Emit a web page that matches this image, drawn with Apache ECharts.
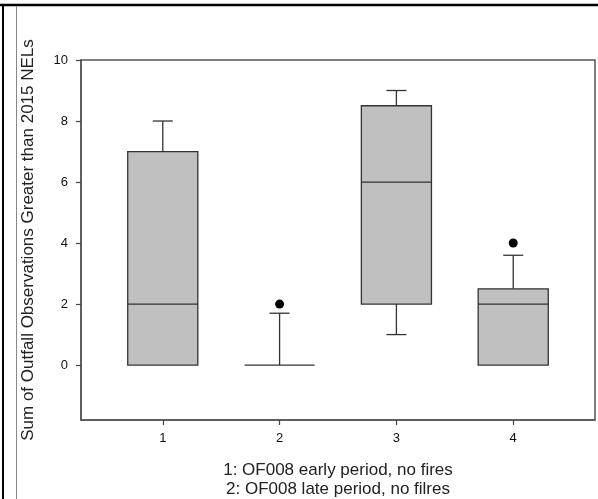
<!DOCTYPE html>
<html>
<head>
<meta charset="utf-8">
<script src="https://cdn.jsdelivr.net/npm/echarts@6/dist/echarts.min.js"></script>
<style>
html,body{margin:0;padding:0;background:#fff;}
#chart{width:598px;height:499px;}
</style>
</head>
<body>
<div id="chart"></div>
<script>
// ---- data ----
var categories = ['1', '2', '3', '4'];
var positions = [1, 2, 3, 4];
var whiskerLow = [0, 0, 1, 0];
var q1 = [0, 0, 2, 0];
var median = [2, 0, 6, 2];
var q3 = [7, 0, 8.5, 2.5];
var whiskerHigh = [8, 1.7, 9, 3.6];
var outliers = [[2, 2], [4, 4]];
var yTicks = [0, 2, 4, 6, 8, 10];
var yTitle = 'Sum of Outfall Observations Greater than 2015 NELs';
var captionLines = ['1: OF008 early period, no fires', '2: OF008 late period, no filres'];

var font = 'Liberation Sans, Arial, sans-serif';
var boxData = positions.map(function (p, i) {
  return [p, whiskerLow[i], q1[i], median[i], q3[i], whiskerHigh[i]];
});

var chart = echarts.init(document.getElementById('chart'), null, {renderer: 'canvas'});

function renderBox(params, api) {
  var x = api.value(0);
  var lo = api.value(1), b1 = api.value(2), md = api.value(3), b3 = api.value(4), hi = api.value(5);
  var band = api.size([1, 0])[0];
  var bw = band * 0.6;
  var cap = 20;
  var pLo = api.coord([x, lo]), pQ1 = api.coord([x, b1]), pMd = api.coord([x, md]),
      pQ3 = api.coord([x, b3]), pHi = api.coord([x, hi]);
  var cx = pMd[0];
  var stroke = '#333';
  var lw = 1.3;
  var children = [];
  if (hi > b3) {
    children.push({type: 'line', shape: {x1: cx, y1: pQ3[1], x2: cx, y2: pHi[1]}, style: {stroke: stroke, lineWidth: lw}});
    children.push({type: 'line', shape: {x1: cx - cap / 2, y1: pHi[1], x2: cx + cap / 2, y2: pHi[1]}, style: {stroke: stroke, lineWidth: lw}});
  }
  if (lo < b1) {
    children.push({type: 'line', shape: {x1: cx, y1: pQ1[1], x2: cx, y2: pLo[1]}, style: {stroke: stroke, lineWidth: lw}});
    children.push({type: 'line', shape: {x1: cx - cap / 2, y1: pLo[1], x2: cx + cap / 2, y2: pLo[1]}, style: {stroke: stroke, lineWidth: lw}});
  }
  if (b3 > b1) {
    children.push({type: 'rect', shape: {x: cx - bw / 2, y: pQ3[1], width: bw, height: pQ1[1] - pQ3[1]},
      style: {fill: '#c0c0c0', stroke: stroke, lineWidth: lw}});
  }
  children.push({type: 'line', shape: {x1: cx - bw / 2, y1: pMd[1], x2: cx + bw / 2, y2: pMd[1]}, style: {stroke: stroke, lineWidth: lw}});
  return {type: 'group', children: children};
}

var option = {
  backgroundColor: '#fff',
  animation: false,
  grid: {left: 81, right: 3, top: 60, bottom: 79, show: true, borderColor: '#555', borderWidth: 1.5, backgroundColor: 'transparent'},
  xAxis: {
    type: 'value', min: 0.3, max: 4.7,
    axisLine: {show: true, onZero: false, lineStyle: {color: '#555', width: 1.5}},
    axisTick: {show: true, length: 5, customValues: positions, lineStyle: {color: '#444', width: 1.2}},
    axisLabel: {customValues: positions, margin: 12, fontSize: 13, color: '#111', fontFamily: font,
      formatter: function (v) { return categories[positions.indexOf(Math.round(v))] || ''; }},
    splitLine: {show: false}
  },
  yAxis: {
    type: 'value', min: -1.8, max: 10,
    name: yTitle, nameLocation: 'middle', nameGap: 44,
    nameTextStyle: {fontSize: 17, color: '#222', fontFamily: font},
    axisLine: {show: true, onZero: false, lineStyle: {color: '#555', width: 1.5}},
    axisTick: {show: true, length: 5, customValues: yTicks, lineStyle: {color: '#444', width: 1.2}},
    axisLabel: {customValues: yTicks, margin: 13, fontSize: 13, color: '#111', fontFamily: font},
    splitLine: {show: false}
  },
  series: [
    {type: 'custom', renderItem: renderBox, data: boxData, encode: {x: 0, y: [1, 2, 3, 4, 5]}, z: 2},
    {type: 'scatter', data: outliers, symbol: 'circle', symbolSize: 9, itemStyle: {color: '#000', opacity: 1}, z: 3}
  ],
  graphic: [
    {type: 'line', shape: {x1: 0, y1: 5, x2: 598, y2: 5}, style: {stroke: '#000', lineWidth: 2.5}},
    {type: 'line', shape: {x1: 3, y1: 4, x2: 3, y2: 499}, style: {stroke: '#000', lineWidth: 2}},
    {type: 'line', shape: {x1: 16.5, y1: 6, x2: 16.5, y2: 499}, style: {stroke: '#888', lineWidth: 1}},
    {type: 'text', x: 338, y: 470, style: {text: captionLines[0], fontSize: 17, fontFamily: font, fill: '#222', align: 'center', verticalAlign: 'middle'}},
    {type: 'text', x: 338, y: 489, style: {text: captionLines[1], fontSize: 17, fontFamily: font, fill: '#222', align: 'center', verticalAlign: 'middle'}}
  ]
};
chart.setOption(option);
</script>
</body>
</html>
